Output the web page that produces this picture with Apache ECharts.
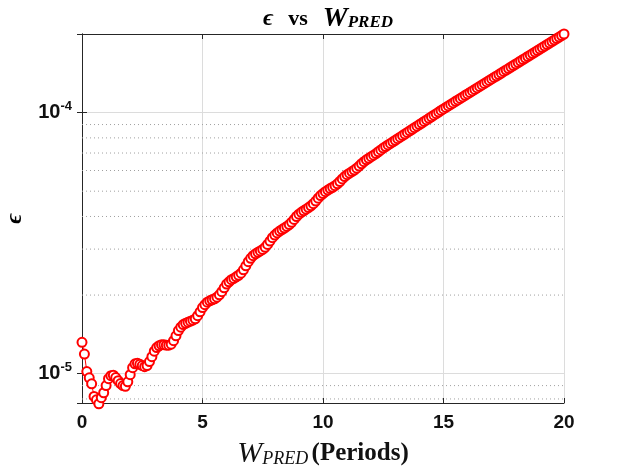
<!DOCTYPE html>
<html>
<head>
<meta charset="utf-8">
<script src="https://cdn.jsdelivr.net/npm/echarts@6/dist/echarts.min.js"></script>
<style>
  html, body { margin: 0; padding: 0; background: #fff; }
  #chart { width: 623px; height: 468px; }
</style>
</head>
<body>
<div id="chart"></div>
<script>
// W_PRED in periods
const wPred = [
  0, 0.1, 0.2, 0.3, 0.4, 0.5, 0.6, 0.7, 0.8, 0.9,
  1, 1.1, 1.2, 1.3, 1.4, 1.5, 1.6, 1.7, 1.8, 1.9,
  2, 2.1, 2.2, 2.3, 2.4, 2.5, 2.6, 2.7, 2.8, 2.9,
  3, 3.1, 3.2, 3.3, 3.4, 3.5, 3.6, 3.7, 3.8, 3.9,
  4, 4.1, 4.2, 4.3, 4.4, 4.5, 4.6, 4.7, 4.8, 4.9,
  5, 5.1, 5.2, 5.3, 5.4, 5.5, 5.6, 5.7, 5.8, 5.9,
  6, 6.1, 6.2, 6.3, 6.4, 6.5, 6.6, 6.7, 6.8, 6.9,
  7, 7.1, 7.2, 7.3, 7.4, 7.5, 7.6, 7.7, 7.8, 7.9,
  8, 8.1, 8.2, 8.3, 8.4, 8.5, 8.6, 8.7, 8.8, 8.9,
  9, 9.1, 9.2, 9.3, 9.4, 9.5, 9.6, 9.7, 9.8, 9.9,
  10, 10.1, 10.2, 10.3, 10.4, 10.5, 10.6, 10.7, 10.8, 10.9,
  11, 11.1, 11.2, 11.3, 11.4, 11.5, 11.6, 11.7, 11.8, 11.9,
  12, 12.1, 12.2, 12.3, 12.4, 12.5, 12.6, 12.7, 12.8, 12.9,
  13, 13.1, 13.2, 13.3, 13.4, 13.5, 13.6, 13.7, 13.8, 13.9,
  14, 14.1, 14.2, 14.3, 14.4, 14.5, 14.6, 14.7, 14.8, 14.9,
  15, 15.1, 15.2, 15.3, 15.4, 15.5, 15.6, 15.7, 15.8, 15.9,
  16, 16.1, 16.2, 16.3, 16.4, 16.5, 16.6, 16.7, 16.8, 16.9,
  17, 17.1, 17.2, 17.3, 17.4, 17.5, 17.6, 17.7, 17.8, 17.9,
  18, 18.1, 18.2, 18.3, 18.4, 18.5, 18.6, 18.7, 18.8, 18.9,
  19, 19.1, 19.2, 19.3, 19.4, 19.5, 19.6, 19.7, 19.8, 19.9,
  20
];

// epsilon, in units of 1e-5
const epsE5 = [
  1.318, 1.189, 1.019, 0.964, 0.914, 0.818, 0.794, 0.767, 0.809, 0.845,
  0.900, 0.957, 0.982, 0.986, 0.966, 0.940, 0.916, 0.900, 0.895, 0.931,
  0.991, 1.054, 1.091, 1.096, 1.086, 1.074, 1.064, 1.074, 1.112, 1.161,
  1.219, 1.259, 1.279, 1.291, 1.291, 1.285, 1.285, 1.297, 1.337, 1.396,
  1.462, 1.507, 1.542, 1.560, 1.574, 1.589, 1.603, 1.622, 1.667, 1.726,
  1.791, 1.837, 1.879, 1.901, 1.919, 1.936, 1.963, 2.004, 2.061, 2.133,
  2.203, 2.249, 2.291, 2.317, 2.350, 2.382, 2.427, 2.500, 2.588, 2.685,
  2.767, 2.831, 2.877, 2.917, 2.951, 2.992, 3.048, 3.126, 3.221, 3.319,
  3.396, 3.459, 3.516, 3.565, 3.614, 3.664, 3.724, 3.802, 3.899, 3.999,
  4.083, 4.150, 4.207, 4.266, 4.325, 4.395, 4.477, 4.581, 4.699, 4.808,
  4.898, 4.977, 5.047, 5.117, 5.176, 5.248, 5.333, 5.445, 5.572, 5.689,
  5.781, 5.861, 5.943, 6.026, 6.124, 6.237, 6.368, 6.486, 6.592, 6.683,
  6.776, 6.871, 6.966, 7.079, 7.194, 7.311, 7.413, 7.516, 7.621, 7.727,
  7.834, 7.943, 8.054, 8.166, 8.279, 8.395, 8.511, 8.630, 8.750, 8.872,
  8.995, 9.120, 9.247, 9.376, 9.506, 9.638, 9.772, 9.908, 10.05, 10.19,
  10.33, 10.47, 10.61, 10.75, 10.89, 11.04, 11.18, 11.33, 11.48, 11.64,
  11.79, 11.95, 12.11, 12.27, 12.43, 12.60, 12.76, 12.93, 13.10, 13.28,
  13.45, 13.63, 13.81, 13.99, 14.18, 14.37, 14.56, 14.75, 14.95, 15.15,
  15.35, 15.55, 15.76, 15.97, 16.18, 16.40, 16.61, 16.83, 17.06, 17.28,
  17.51, 17.75, 17.98, 18.22, 18.46, 18.71, 18.96, 19.21, 19.46, 19.72,
  20.0
];

// minor log grid lines (dotted)
const minorGrid = [8e-6, 9e-6, 2e-5, 3e-5, 4e-5, 5e-5, 6e-5, 7e-5, 8e-5, 9e-5];
const xTicks = [0, 5, 10, 15, 20];
const xRange = [0, 20];
const yRange = [7.72e-6, 2e-4];

const chart = echarts.init(document.getElementById('chart'));
const axisColor = '#262626';
const labelFont = 'Liberation Sans, Arial, sans-serif';
const serif = 'Liberation Serif, DejaVu Serif, serif';

const data = wPred.map((x, i) => [x, epsE5[i] * 1e-5]);

function powLabel(v) {
  const e = Math.log10(v);
  if (Math.abs(e - Math.round(e)) > 1e-6) return '';
  return '{b|10}{s|' + Math.round(e) + '}';
}

// dotted minor grid as plain line series across the x range
const minorSeries = minorGrid.map(v => ({
  type: 'line',
  data: [[xRange[0], v], [xRange[1], v]],
  symbol: 'none', silent: true, z: 1,
  lineStyle: { color: '#a0a0a0', width: 1, type: [1, 3] }
}));

chart.setOption({
  animation: false,
  title: {
    text: '{e|ϵ}   {vs|vs}   {w|W}{sub|PRED}',
    left: 323, top: 0, textAlign: 'center',
    textStyle: {
      rich: {
        e: { fontFamily: serif, fontSize: 24, fontStyle: 'italic', fontWeight: 'bold', color: '#000' },
        vs: { fontFamily: serif, fontSize: 22, fontWeight: 'bold', color: '#000' },
        w: { fontFamily: serif, fontSize: 28, fontStyle: 'italic', fontWeight: 'bold', color: '#000' },
        sub: { fontFamily: serif, fontSize: 17, fontStyle: 'italic', fontWeight: 'bold', color: '#000', padding: [8, 0, 0, 0] }
      }
    }
  },
  grid: { left: 82, right: 59, top: 34, bottom: 65, containLabel: false, outerBoundsMode: 'none' },
  xAxis: [{
    type: 'value', min: xRange[0], max: xRange[1], interval: 5,
    name: '{w|W}{sub|PRED} {p|(Periods)}',
    nameLocation: 'middle', nameGap: 36,
    nameTextStyle: {
      rich: {
        w: { fontFamily: serif, fontSize: 30, fontStyle: 'italic', color: '#111' },
        sub: { fontFamily: serif, fontSize: 18, fontStyle: 'italic', color: '#111', padding: [10, 0, 0, 0] },
        p: { fontFamily: serif, fontSize: 25, fontWeight: 'bold', color: '#111' }
      }
    },
    axisLine: { lineStyle: { color: axisColor, width: 1 } },
    axisTick: { inside: true, length: 5, lineStyle: { color: axisColor } },
    axisLabel: { fontFamily: labelFont, fontSize: 19, fontWeight: 'bold', color: '#111', margin: 10,
      formatter: v => xTicks.includes(v) ? String(v) : '' },
    splitLine: { show: true, lineStyle: { color: '#dcdcdc', width: 1 } }
  }, {
    type: 'value', min: xRange[0], max: xRange[1], interval: 5, position: 'top',
    axisLine: { lineStyle: { color: axisColor, width: 1 } },
    axisTick: { inside: true, length: 5, lineStyle: { color: axisColor } },
    axisLabel: { show: false },
    splitLine: { show: false }
  }],
  yAxis: [{
    type: 'log', logBase: 10, min: yRange[0], max: yRange[1],
    name: 'ϵ', nameLocation: 'middle', nameGap: 50, nameRotate: 90,
    nameTextStyle: { fontFamily: serif, fontSize: 24, fontStyle: 'italic', fontWeight: 'bold', color: '#000' },
    axisLine: { lineStyle: { color: axisColor, width: 1 } },
    axisTick: { inside: true, length: 5, lineStyle: { color: axisColor } },
    axisLabel: {
      margin: 10, formatter: powLabel,
      rich: {
        b: { fontFamily: labelFont, fontSize: 20, fontWeight: 'bold', color: '#111' },
        s: { fontFamily: labelFont, fontSize: 13, fontWeight: 'bold', color: '#111', padding: [0, 0, 12, 0] }
      }
    },
    splitLine: { show: true, lineStyle: { color: '#dcdcdc', width: 1 } }
  }, {
    type: 'log', logBase: 10, min: yRange[0], max: yRange[1], position: 'right',
    axisLine: { lineStyle: { color: axisColor, width: 1 } },
    axisTick: { inside: true, length: 5, lineStyle: { color: axisColor } },
    axisLabel: { show: false },
    splitLine: { show: false }
  }],
  series: minorSeries.concat([{
    type: 'line',
    data: data,
    xAxisIndex: 0, yAxisIndex: 0,
    clip: false,
    symbol: 'emptyCircle',
    symbolSize: 9,
    showAllSymbol: true,
    itemStyle: { color: '#ff0000', borderColor: '#ff0000', borderWidth: 1.4 },
    lineStyle: { color: '#ff0000', width: 1 },
    z: 3
  }])
});
</script>
</body>
</html>
